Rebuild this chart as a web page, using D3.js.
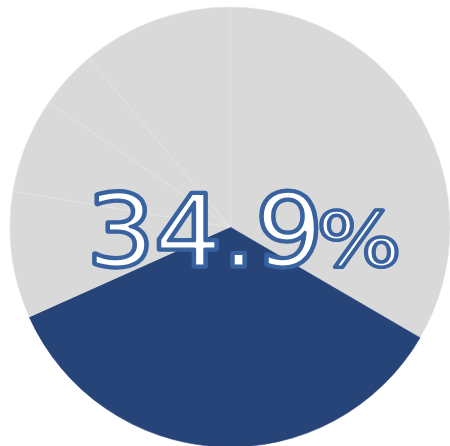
<!DOCTYPE html>
<html>
<head>
<meta charset="utf-8">
<script src="https://cdn.jsdelivr.net/npm/d3@7"></script>
<style>
  html, body { margin: 0; padding: 0; background: #fff; }
</style>
</head>
<body>
<div id="chart"></div>
<script>
// slices clockwise from 12 o'clock, share in percent
const categories = ['A', 'B', 'C', 'D', 'E', 'F'];
const values = [33.4, 34.9, 9.3, 7.0, 4.3, 11.1];
const highlight = 'B';
const labelMain = '34.9';
const labelUnit = '%';

const width = 450;
const height = 446;
const centre = { x: 230, y: 227 };
const radius = 220;

const svg = d3.select('#chart')
  .append('svg')
  .attr('width', width)
  .attr('height', height);

const pie = d3.pie().sort(null).value(d => d.value);
const arc = d3.arc().innerRadius(0).outerRadius(radius);

const data = categories.map((c, i) => ({ cat: c, value: values[i] }));

const g = svg.append('g')
  .attr('transform', `translate(${centre.x},${centre.y})`);

g.selectAll('path')
  .data(pie(data))
  .enter()
  .append('path')
  .attr('d', arc)
  .attr('fill', d => d.data.cat === highlight ? '#264478' : '#d9d9d9')
  .attr('stroke', d => d.data.cat === highlight ? '#264478' : '#e6e6e6')
  .attr('stroke-width', 0.6);

// big percentage label: an outer outline layer, then white glyphs with a thinner inner outline
function outlinedText(txt, transform, size, anchor, outer, inner) {
  const layers = [
    { fill: '#3862a0', w: outer },
    { fill: '#ffffff', w: inner }
  ];
  layers.forEach(l => {
    svg.append('text')
      .attr('transform', transform)
      .attr('text-anchor', anchor)
      .style('font-family', 'DejaVu Sans')
      .style('font-size', size + 'px')
      .style('fill', l.fill)
      .style('stroke', '#3862a0')
      .style('stroke-width', l.w)
      .style('stroke-linejoin', 'round')
      .text(txt);
  });
}

outlinedText(labelMain, 'translate(87,266) scale(1.07,1)', 99, 'start', 5.5, 3);
outlinedText(labelUnit, 'translate(401,266) scale(1.2,1)', 74, 'end', 4, 3);
</script>
</body>
</html>
